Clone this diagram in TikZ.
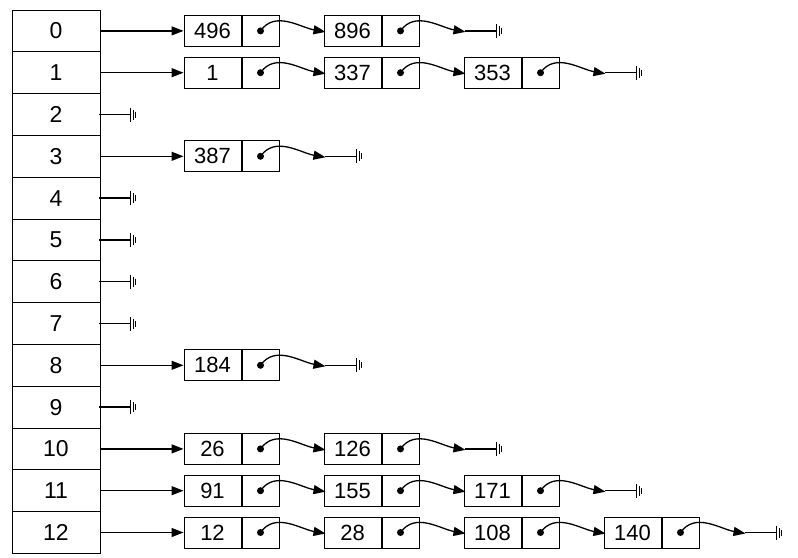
\documentclass[tikz,border=0pt]{standalone}
\usepackage{fontspec}
\setmainfont{Liberation Sans}
\usetikzlibrary{arrows.meta,positioning}

\tikzset{
  slot/.style={draw, line width=1pt, minimum width=88pt, minimum height=41.8pt, inner sep=0pt, font=\fontsize{23}{26}\selectfont},
  val/.style={draw, line width=1pt, minimum width=57pt, minimum height=31pt, inner sep=0pt, font=\fontsize{22}{26}\selectfont},
  ptr/.style={draw, line width=1pt, minimum width=37pt, minimum height=31pt, inner sep=0pt},
  link/.style={line width=1.3pt, -{Triangle[length=12pt,width=9pt]}},
  pics/nil/.style={code={
    \draw[line width=1.3pt] (0,0) -- (32,0);
    \draw[line width=1.3pt] (32,-7) -- (32,7);
    \draw (34.5,-5) -- (34.5,5);
    \draw (37,-3) -- (37,3);
  }}
}

\begin{document}
\begin{tikzpicture}[x=1pt,y=-1pt]
  \useasboundingbox (0,0) rectangle (798,557);

  % Table.
  \foreach \i in {0,...,12}
    \node[slot] (s\i) at ({56}, {10+41.8*\i+20.9}) {\i};

  % Chains.
  \foreach \r/\vals in {0/{496,896}, 1/{1,337,353}, 3/{387}, 8/{184},
                        10/{26,126}, 11/{91,155,171}, 12/{12,28,108,140}} {
    \foreach \v [count=\k] in \vals {
      \node[val] (v\r-\k) at ({212.5+140*(\k-1)}, {10+41.8*\r+20.9}) {\v};
      \node[ptr, right=0pt of v\r-\k] (p\r-\k) {};
      \fill (p\r-\k.center) circle (3.5pt);
      \coordinate (e\r-\k) at ([xshift=46pt,yshift=-1pt]p\r-\k.east);
      \draw[link] (p\r-\k.center) to[out=55,in=170] (e\r-\k);
    }
    \draw[link] (s\r.east) -- (v\r-1.west);
  }

  % End of each chain.
  \foreach \r/\n in {0/2, 1/3, 3/1, 8/1, 10/2, 11/3, 12/4}
    \pic at ([yshift=1pt,xshift=-1pt]e\r-\n) {nil};
  \foreach \r in {2,4,5,6,7,9}
    \pic at ([xshift=-2pt]s\r.east) {nil};
\end{tikzpicture}
\end{document}
